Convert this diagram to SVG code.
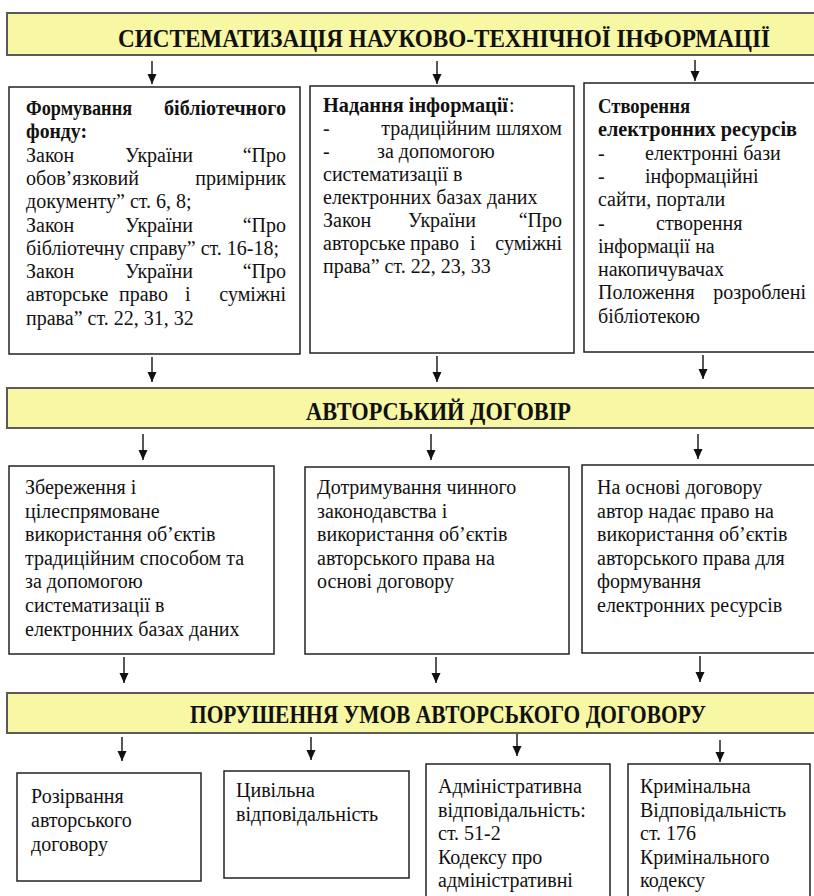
<svg xmlns="http://www.w3.org/2000/svg" width="814" height="896" viewBox="0 0 814 896">
<style>
.banner{fill:#f7f7a4;stroke:#5a5a5a;stroke-width:2}
.box{fill:#ffffff;stroke:#222;stroke-width:1.5}
text{font-family:'Liberation Serif','Times New Roman','DejaVu Serif',serif}
.t{font-size:20px;fill:#111}
.b{font-weight:bold}
.h{font-size:22px;font-weight:bold;fill:#111}
.e{text-anchor:end}
.arr{stroke:#111;stroke-width:1.4;fill:none;marker-end:url(#ah)}
</style>
<defs>
<marker id="ah" markerUnits="userSpaceOnUse" markerWidth="10" markerHeight="12" refX="10" refY="4.5" orient="auto">
<path d="M0,0 L10,4.5 L0,9 z" fill="#111"/>
</marker>
</defs>
<rect width="814" height="896" fill="#ffffff"/>

<g id="banner1">
<rect class="banner" x="7" y="13" width="820" height="42"/>
<text class="h" x="0" y="0" transform="translate(118,47) scale(1,1.18)" textLength="652" lengthAdjust="spacingAndGlyphs">СИСТЕМАТИЗАЦІЯ НАУКОВО-ТЕХНІЧНОЇ ІНФОРМАЦІЇ</text>
</g>

<g id="box1">
<rect class="box" x="9" y="87" width="291" height="267"/>
<text class="t b" x="26" y="115" textLength="106" lengthAdjust="spacingAndGlyphs">Формування</text>
<text class="t b" x="164" y="115" textLength="122" lengthAdjust="spacingAndGlyphs">бібліотечного</text>
<text class="t b" x="26" y="138.3" textLength="61" lengthAdjust="spacingAndGlyphs">фонду:</text>
<text class="t" x="26" y="161.6">Закон</text>
<text class="t" x="125" y="161.6">України</text>
<text class="t e" x="286" y="161.6">“Про</text>
<text class="t" x="26" y="184.9">обов’язковий</text>
<text class="t e" x="286" y="184.9">примірник</text>
<text class="t" x="26" y="208.2">документу” ст. 6, 8;</text>
<text class="t" x="26" y="231.5">Закон</text>
<text class="t" x="125" y="231.5">України</text>
<text class="t e" x="286" y="231.5">“Про</text>
<text class="t" x="26" y="254.8">бібліотечну справу” ст. 16-18;</text>
<text class="t" x="26" y="278.1">Закон</text>
<text class="t" x="125" y="278.1">України</text>
<text class="t e" x="286" y="278.1">“Про</text>
<text class="t" x="26" y="301.4">авторське</text>
<text class="t" x="119" y="301.4">право</text>
<text class="t" x="185" y="301.4">і</text>
<text class="t e" x="286" y="301.4">суміжні</text>
<text class="t" x="26" y="324.7">права” ст. 22, 31, 32</text>
</g>

<g id="box2">
<rect class="box" x="310" y="86" width="264" height="267"/>
<text class="t b" x="323" y="112" textLength="185" lengthAdjust="spacingAndGlyphs">Надання інформації</text>
<text class="t" x="509" y="112">:</text>
<text class="t" x="323" y="135">-</text>
<text class="t e" x="562" y="135">традиційним шляхом</text>
<text class="t" x="323" y="158">-</text>
<text class="t" x="377" y="158">за допомогою</text>
<text class="t" x="323" y="181">систематизації в</text>
<text class="t" x="323" y="204">електронних базах даних</text>
<text class="t" x="323" y="227">Закон</text>
<text class="t" x="408" y="227">України</text>
<text class="t e" x="562" y="227">“Про</text>
<text class="t" x="323" y="250">авторське</text>
<text class="t" x="410" y="250">право</text>
<text class="t" x="470" y="250">і</text>
<text class="t e" x="562" y="250">суміжні</text>
<text class="t" x="323" y="273">права” ст. 22, 23, 33</text>
</g>

<g id="box3">
<rect class="box" x="584" y="83" width="246" height="269"/>
<text class="t b" x="598" y="113" textLength="92" lengthAdjust="spacingAndGlyphs">Створення</text>
<text class="t b" x="598" y="136.3" textLength="199" lengthAdjust="spacingAndGlyphs">електронних ресурсів</text>
<text class="t" x="598" y="159.6">-</text>
<text class="t" x="645" y="159.6">електронні бази</text>
<text class="t" x="598" y="182.9">-</text>
<text class="t" x="645" y="182.9">інформаційні</text>
<text class="t" x="598" y="206.2">сайти, портали</text>
<text class="t" x="598" y="229.5">-</text>
<text class="t" x="656" y="229.5">створення</text>
<text class="t" x="598" y="252.8">інформації на</text>
<text class="t" x="598" y="276.1">накопичувачах</text>
<text class="t" x="598" y="299.4">Положення</text>
<text class="t e" x="806" y="299.4">розроблені</text>
<text class="t" x="598" y="322.7">бібліотекою</text>
</g>

<g id="banner2">
<rect class="banner" x="7" y="388" width="820" height="40"/>
<text class="h" x="0" y="0" transform="translate(306,420) scale(1,1.18)" textLength="265" lengthAdjust="spacingAndGlyphs">АВТОРСЬКИЙ ДОГОВІР</text>
</g>

<g id="boxA">
<rect class="box" x="9" y="466" width="265" height="188"/>
<text class="t" x="25" y="494">Збереження і</text>
<text class="t" x="25" y="517.6">цілеспрямоване</text>
<text class="t" x="25" y="541.2">використання об’єктів</text>
<text class="t" x="25" y="564.8">традиційним способом та</text>
<text class="t" x="25" y="588.4">за допомогою</text>
<text class="t" x="25" y="612">систематизації в</text>
<text class="t" x="25" y="635.6">електронних базах даних</text>
</g>

<g id="boxB">
<rect class="box" x="305" y="467" width="264" height="187"/>
<text class="t" x="317" y="494">Дотримування чинного</text>
<text class="t" x="317" y="517.6">законодавства і</text>
<text class="t" x="317" y="541.2">використання об’єктів</text>
<text class="t" x="317" y="564.8">авторського права на</text>
<text class="t" x="317" y="588.4">основі договору</text>
</g>

<g id="boxC">
<rect class="box" x="582" y="465" width="248" height="188"/>
<text class="t" x="597" y="494">На основі договору</text>
<text class="t" x="597" y="517.6">автор надає право на</text>
<text class="t" x="597" y="541.2">використання об’єктів</text>
<text class="t" x="597" y="564.8">авторського права для</text>
<text class="t" x="597" y="588.4">формування</text>
<text class="t" x="597" y="612">електронних ресурсів</text>
</g>

<g id="banner3">
<rect class="banner" x="7" y="693" width="820" height="40"/>
<text class="h" x="0" y="0" transform="translate(190,723) scale(1,1.18)" textLength="516" lengthAdjust="spacingAndGlyphs">ПОРУШЕННЯ УМОВ АВТОРСЬКОГО ДОГОВОРУ</text>
</g>

<g id="bottom1">
<rect class="box" x="17" y="773" width="184" height="108"/>
<text class="t" x="31" y="803">Розірвання</text>
<text class="t" x="31" y="827">авторського</text>
<text class="t" x="31" y="851">договору</text>
</g>

<g id="bottom2">
<rect class="box" x="224" y="771" width="185" height="107"/>
<text class="t" x="236" y="797">Цивільна</text>
<text class="t" x="236" y="821">відповідальність</text>
</g>

<g id="bottom3">
<rect class="box" x="426" y="764" width="184" height="140"/>
<text class="t" x="438" y="793">Адміністративна</text>
<text class="t" x="438" y="816.5">відповідальність:</text>
<text class="t" x="438" y="840">ст. 51-2</text>
<text class="t" x="438" y="863.5">Кодексу про</text>
<text class="t" x="438" y="887">адміністративні</text>
</g>

<g id="bottom4">
<rect class="box" x="628" y="764" width="182" height="140"/>
<text class="t" x="640" y="793">Кримінальна</text>
<text class="t" x="640" y="816.5">Відповідальність</text>
<text class="t" x="640" y="840">ст. 176</text>
<text class="t" x="640" y="863.5">Кримінального</text>
<text class="t" x="640" y="887">кодексу</text>
</g>

<g id="connectors">
<line class="arr" x1="152" y1="61" x2="152" y2="84"/>
<line class="arr" x1="437" y1="61" x2="437" y2="84"/>
<line class="arr" x1="695" y1="60" x2="695" y2="81"/>
<line class="arr" x1="152" y1="357" x2="152" y2="382"/>
<line class="arr" x1="437" y1="356" x2="437" y2="382"/>
<line class="arr" x1="703" y1="355" x2="703" y2="379"/>
<line class="arr" x1="143" y1="434" x2="143" y2="460"/>
<line class="arr" x1="431" y1="434" x2="431" y2="460"/>
<line class="arr" x1="698" y1="434" x2="698" y2="459"/>
<line class="arr" x1="124" y1="657" x2="124" y2="683"/>
<line class="arr" x1="436" y1="657" x2="436" y2="683"/>
<line class="arr" x1="700" y1="656" x2="700" y2="682"/>
<line class="arr" x1="122" y1="737" x2="122" y2="761"/>
<line class="arr" x1="311" y1="737" x2="311" y2="760"/>
<line class="arr" x1="517" y1="734" x2="517" y2="756"/>
<line class="arr" x1="720" y1="740" x2="720" y2="762"/>
</g>
</svg>
